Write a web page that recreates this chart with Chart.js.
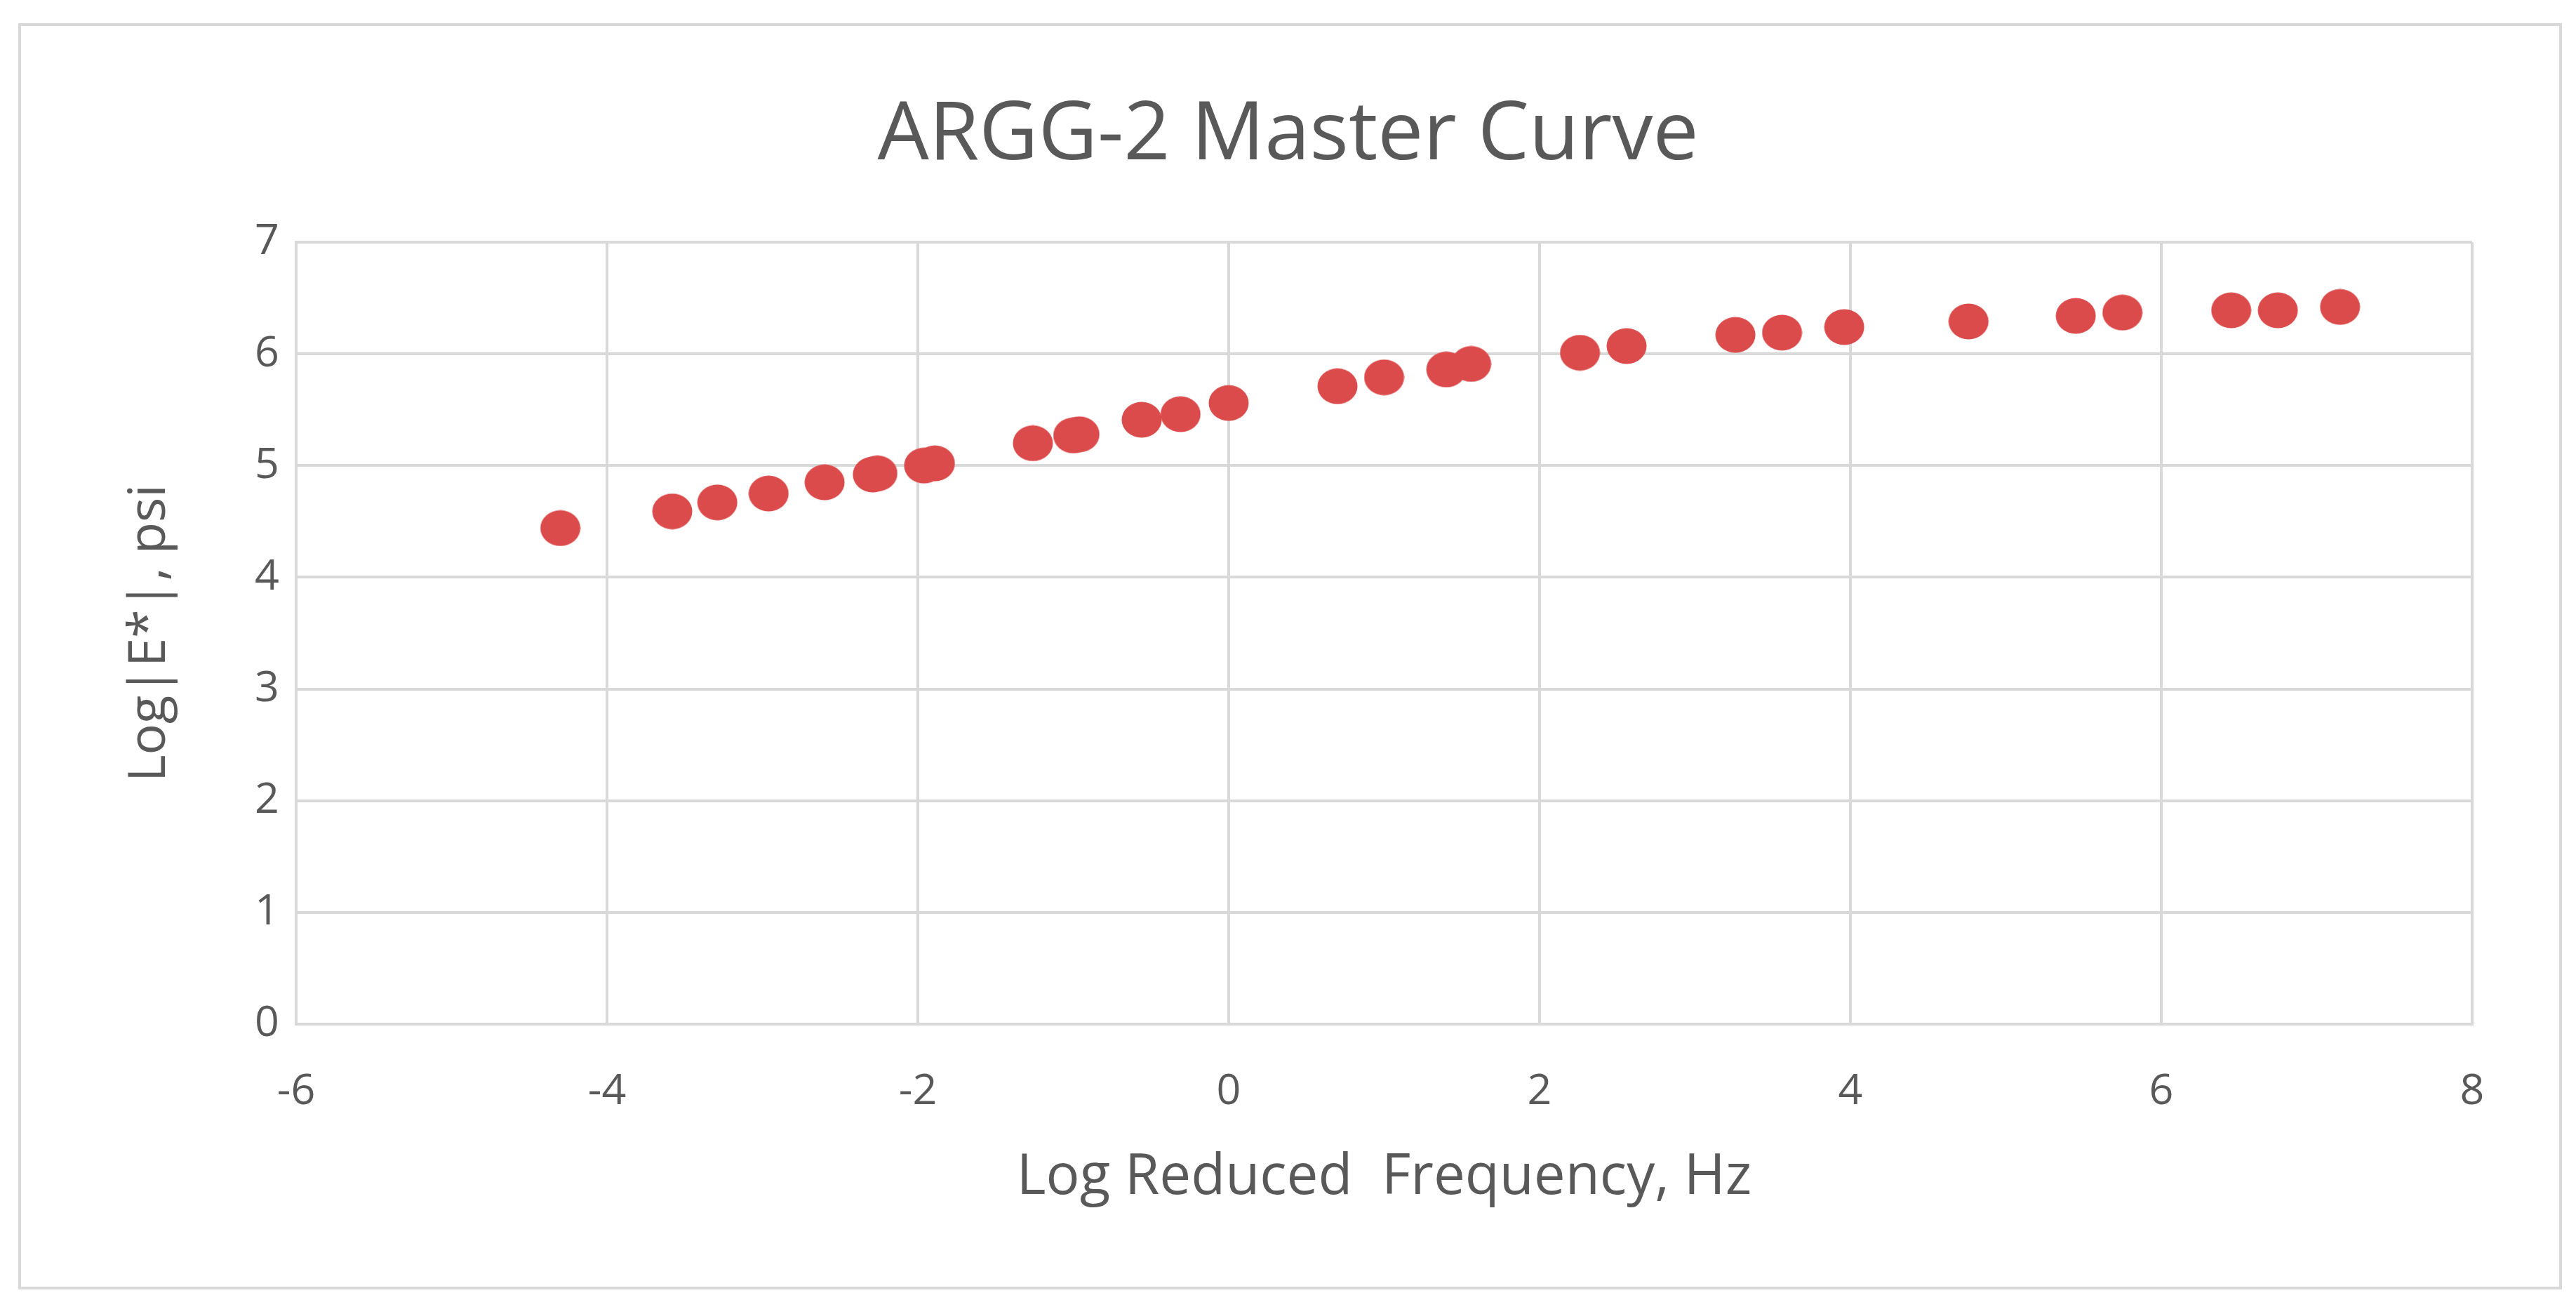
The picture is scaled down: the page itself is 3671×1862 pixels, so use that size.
<!DOCTYPE html>
<html>
<head>
<meta charset="utf-8">
<script src="https://cdn.jsdelivr.net/npm/chart.js@4/dist/chart.umd.min.js"></script>
<style>
  html, body { margin: 0; padding: 0; background: #ffffff; }
  #wrap { width: 3671px; height: 1862px; position: relative; }
  canvas { display: block; }
</style>
</head>
<body>
<div id="wrap"><canvas id="c" width="3671" height="1862"></canvas></div>
<script>
// ---- data ----
const chartTitle = "ARGG-2 Master Curve";
const xAxisTitle = "Log Reduced  Frequency, Hz";
const yAxisTitle = "Log|E*|, psi";
const logReducedFrequency = [-4.30, -3.58, -3.29, -2.96, -2.60, -2.29, -2.26, -1.96, -1.89, -1.26,
                             -1.00, -0.96, -0.56, -0.31, 0.00, 0.70, 1.00, 1.40, 1.56, 2.26,
                              2.56, 3.26, 3.56, 3.96, 4.76, 5.45, 5.75, 6.45, 6.75, 7.15];
const logModulus = [4.44, 4.59, 4.67, 4.75, 4.85, 4.92, 4.93, 5.00, 5.02, 5.20,
                    5.27, 5.28, 5.41, 5.46, 5.56, 5.71, 5.79, 5.86, 5.91, 6.01,
                    6.07, 6.17, 6.19, 6.24, 6.29, 6.34, 6.37, 6.39, 6.39, 6.42];
const xTickValues = [-6, -4, -2, 0, 2, 4, 6, 8];
const yTickValues = [0, 1, 2, 3, 4, 5, 6, 7];

// ---- styling ----
const textColor = '#595959';
const gridColor = '#d9d9d9';
const markerColor = '#DC4B4B';

// elliptical marker (reference markers are slightly wider than tall)
const marker = document.createElement('canvas');
marker.width = 58; marker.height = 52;
(function () {
  const m = marker.getContext('2d');
  m.fillStyle = markerColor;
  m.beginPath();
  m.ellipse(29, 26, 28.5, 25.5, 0, 0, Math.PI * 2);
  m.fill();
})();

const points = logReducedFrequency.map((x, i) => ({ x: x, y: logModulus[i] }));

const framePlugin = {
  id: 'frame',
  beforeDraw(chart) {
    const ctx = chart.ctx;
    ctx.save();
    ctx.fillStyle = '#ffffff';
    ctx.fillRect(0, 0, chart.width, chart.height);
    ctx.strokeStyle = gridColor;
    ctx.lineWidth = 4;
    ctx.strokeRect(28, 35, 3649 - 28, 1835 - 35);
    ctx.restore();
  }
};

new Chart(document.getElementById('c'), {
  type: 'scatter',
  data: {
    datasets: [{
      label: 'ARGG-2',
      data: points,
      pointStyle: marker,
      pointRadius: 27,
      pointHoverRadius: 27,
      backgroundColor: markerColor,
      borderWidth: 0
    }]
  },
  options: {
    responsive: false,
    animation: false,
    devicePixelRatio: 1,
    layout: { padding: 0 },
    plugins: {
      legend: { display: false },
      tooltip: { enabled: false },
      title: {
        display: true,
        text: chartTitle,
        color: textColor,
        font: { family: 'Open Sans', size: 116, weight: 'normal', lineHeight: 1.2 },
        padding: { top: 124, bottom: 81.8 }
      }
    },
    scales: {
      x: {
        type: 'linear',
        position: 'bottom',
        min: -6, max: 8,
        afterBuildTicks: (s) => { s.ticks = xTickValues.map(v => ({ value: v })); },
        afterFit: (s) => { s.height = 403; },
        grid: { color: gridColor, lineWidth: 4, drawTicks: false },
        border: { color: gridColor, width: 4 },
        ticks: {
          color: textColor,
          padding: 60,
          font: { family: 'Open Sans', size: 61 },
          maxRotation: 0
        },
        title: {
          display: true,
          text: xAxisTitle,
          color: textColor,
          font: { family: 'Open Sans', size: 80, lineHeight: 1.2 },
          padding: { top: 0, bottom: 136 }
        }
      },
      y: {
        type: 'linear',
        position: 'left',
        min: 0, max: 7,
        afterBuildTicks: (s) => { s.ticks = yTickValues.map(v => ({ value: v })); },
        afterFit: (s) => { s.width = 422; },
        grid: { color: gridColor, lineWidth: 4, drawTicks: false },
        border: { color: gridColor, width: 4 },
        ticks: {
          color: textColor,
          padding: 24,
          font: { family: 'Open Sans', size: 61 }
        },
        title: {
          display: true,
          text: yAxisTitle,
          color: textColor,
          font: { family: 'Open Sans', size: 74, lineHeight: 1.2 },
          padding: { top: 170, bottom: 0 }
        }
      },
      yRight: {
        type: 'linear',
        position: 'right',
        display: true,
        min: 0, max: 7,
        afterFit: (s) => { s.width = 148; },
        grid: { display: false, drawTicks: false },
        border: { display: false },
        ticks: { display: false }
      }
    }
  },
  plugins: [framePlugin]
});
</script>
</body>
</html>
